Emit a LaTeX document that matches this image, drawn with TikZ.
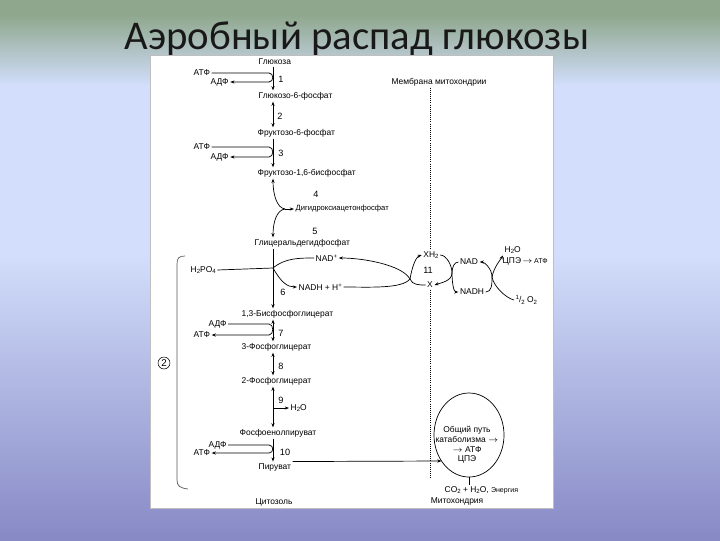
\documentclass[tikz,border=0pt]{standalone}
\usepackage{fontspec}
\setmainfont{Liberation Sans}
\newfontfamily\titlefont{Carlito}
\usetikzlibrary{arrows.meta,positioning,calc,shapes.geometric}

\definecolor{bgtop}{HTML}{8FA78D}
\definecolor{bgmid}{HTML}{D2DEFB}
\definecolor{bgbot}{HTML}{8789C5}

\newcommand{\lsub}[1]{\raisebox{-0.35ex}{\fontsize{4.3}{5}\selectfont #1}}
\newcommand{\lsup}[1]{\raisebox{0.7ex}{\fontsize{4.3}{5}\selectfont #1}}

\tikzset{
  lbl/.style={font=\fontsize{6}{7.2}\selectfont, inner sep=1pt},
  cpd/.style={lbl, anchor=west},
  num/.style={font=\fontsize{6.5}{7}\selectfont, inner sep=0pt},
  arr/.style={-{Stealth[length=3pt,width=2.2pt]}, line width=0.5pt},
  rarr/.style={{Stealth[length=3pt,width=2.2pt]}-{Stealth[length=3pt,width=2.2pt]}, line width=0.5pt},
  plain/.style={line width=0.5pt},
  memb/.style={densely dotted, line width=0.5pt},
}

\begin{document}
\begin{tikzpicture}[x=0.025cm,y=-0.025cm]
    % slide background
    \useasboundingbox (0,0) rectangle (720,540);
    \fill[bgtop] (0,0) rectangle (720,15);
    \shade[top color=bgtop, bottom color=bgmid] (0,15) rectangle (720,85);
    \fill[bgmid] (0,85) rectangle (720,255);
    \shade[top color=bgmid, bottom color=bgbot] (0,255) rectangle (720,540);

    \node[font=\titlefont\fontsize{29}{33}\selectfont, anchor=base, text=black!90] (title) at (357,49) {Аэробный распад глюкозы};

    \draw[gray!50, fill=white] (150,55) rectangle (553,508);

    \coordinate (ax) at (273,0);
    \coordinate (lp) at (269,0);

    % compounds
    \node[cpd] (glc)  at (257,62)  {Глюкоза};
    \node[cpd] (g6p)  at (257,96)  {Глюкозо-6-фосфат};
    \node[cpd] (f6p)  at (256,133) {Фруктозо-6-фосфат};
    \node[cpd] (fbp)  at (256,173) {Фруктозо-1,6-бисфосфат};
    \node[cpd, font=\fontsize{5.4}{6.5}\selectfont] (dhap) at (294,209) {Дигидроксиацетонфосфат};
    \node[cpd] (gap)  at (253,243) {Глицеральдегидфосфат};
    \node[cpd] (bpg)  at (240,314) {1,3-Бисфосфоглицерат};
    \node[cpd] (pg3)  at (240,347) {3-Фосфоглицерат};
    \node[cpd] (pg2)  at (240,381) {2-Фосфоглицерат};
    \node[cpd] (pep)  at (238,433) {Фосфоенолпируват};
    \node[cpd] (pyr)  at (257,467) {Пируват};

    % cofactors
    \node[cpd] (atp1)  at (192,73)  {АТФ};
    \node[cpd] (adp1)  at (209,82)  {АДФ};
    \node[cpd] (atp3)  at (192,147) {АТФ};
    \node[cpd] (adp3)  at (209,157) {АДФ};
    \node[cpd] (pi6)   at (189,270) {H\lsub{2}PO\lsub{4}};
    \node[cpd] (adp7)  at (207,324) {АДФ};
    \node[cpd] (atp7)  at (192,335) {АТФ};
    \node[cpd] (h2o9)  at (289,408) {H\lsub{2}O};
    \node[cpd] (adp10) at (207,445) {АДФ};
    \node[cpd] (atp10) at (192,453) {АТФ};

    % step numbers
    \node[num] (n1)  at (281,79)  {1};
    \node[num] (n2)  at (280,116) {2};
    \node[num] (n3)  at (281,153) {3};
    \node[num] (n4)  at (316,194) {4};
    \node[num] (n5)  at (315,231) {5};
    \node[num] (n6)  at (283,292) {6};
    \node[num] (n7)  at (281,333) {7};
    \node[num] (n8)  at (281,366) {8};
    \node[num] (n9)  at (281,400) {9};
    \node[num] (n10) at (285,452) {10};

    % main chain
    \draw[arr]  (glc.south -| ax) -- (g6p.north -| ax);
    \draw[rarr] (g6p.south -| ax) -- (f6p.north -| ax);
    \draw[arr]  (f6p.south -| ax) -- (fbp.north -| ax);
    \coordinate (j45) at (285,209);
    \draw[arr] (j45) .. controls +(-8,-1) and +(0,16) .. (fbp.south -| ax);
    \draw[arr] (j45) .. controls +(-8,1) and +(0,-16) .. (gap.north -| ax);
    \draw[arr] (j45) -- (dhap.west);
    \draw[arr]  (gap.south -| ax) -- (bpg.north -| ax);
    \draw[rarr] (bpg.south -| ax) -- (pg3.north -| ax);
    \draw[rarr] (pg3.south -| ax) -- (pg2.north -| ax);
    \draw[rarr] (pg2.south -| ax) -- (pep.north -| ax);
    \draw[arr]  (pep.south -| ax) -- (pyr.north -| ax);

    % ATP / ADP loops
    \draw[arr] (atp1.east) -- (atp1.east -| lp) .. controls +(5,0) and +(5,0) .. (adp1.east -| lp) -- (adp1.east);
    \draw[arr] (atp3.east) -- (atp3.east -| lp) .. controls +(5,0) and +(5,0) .. (adp3.east -| lp) -- (adp3.east);
    \draw[arr] (adp7.east) -- (adp7.east -| lp) .. controls +(5,0) and +(5,0) .. (atp7.east -| lp) -- (atp7.east);
    \draw[arr] (adp10.east) -- (adp10.east -| lp) .. controls +(5,0) and +(5,0) .. (atp10.east -| lp) -- (atp10.east);
    \draw[arr] (ax |- h2o9) -- (h2o9.west);

    % step 6 and shuttle
    \coordinate (p6) at (273,268);
    \coordinate (c1) at (410,279);
    \coordinate (c2) at (452,273);
    \coordinate (c3) at (492,277);
    \node[cpd] (nadc)  at (314,258) {NAD\lsup{+}};
    \node[cpd] (nadhc) at (297,287) {NADH + H\lsup{+}};
    \node[lbl] (xh2)   at (431,255) {XH\lsub{2}};
    \node[num] (n11)   at (428,270) {11};
    \node[lbl] (xx)    at (430,285) {X};
    \node[lbl] (nadm)  at (469,262) {NAD};
    \node[lbl] (nadhm) at (472,292) {NADH};
    \node[cpd] (h2o)   at (503,250) {H\lsub{2}O};
    \node[cpd] (cpe)   at (501,261) {ЦПЭ\,$\to$\,{\fontsize{5}{6}\selectfont АТФ}};
    \node[cpd] (o2)    at (514,300) {\lsup{1}/\lsub{2} O\lsub{2}};

    \draw[plain] (pi6.east) -- (p6);
    \draw[plain] (p6) .. controls +(12,-10) and +(-15,0) .. (nadc.west);
    \draw[arr] (c1) .. controls +(-8,-14) and +(25,0) .. (nadc.east);
    \draw[arr] (p6) .. controls +(8,14) and +(-10,0) .. (nadhc.west);
    \draw[plain] (nadhc.east) .. controls +(25,0) and +(-8,10) .. (c1);
    \draw[arr] (c1) .. controls +(2,-12) and +(-6,2) .. (xh2.west);
    \draw[plain] (c1) .. controls +(2,6) and +(-6,0) .. (xx.west);
    \draw[plain] (xh2.east) .. controls +(6,0) and +(0,-8) .. (c2);
    \draw[plain] (nadm.west) .. controls +(-4,0) and +(0,-6) .. (c2);
    \draw[arr] (c2) .. controls +(0,8) and +(6,-2) .. (xx.east);
    \draw[arr] (c2) .. controls +(0,8) and +(-5,0) .. (nadhm.west);
    \draw[arr] (c3) .. controls +(0,-8) and +(5,0) .. (nadm.east);
    \draw[plain] (nadhm.east) .. controls +(6,0) and +(0,8) .. (c3);
    \draw[arr] (c3) .. controls +(2,-10) and +(-3,5) .. (h2o.south west);
    \draw[plain] (c3) .. controls +(2,10) and +(-8,-2) .. (o2.west);

    % mitochondrion side
    \node[lbl] (mem) at (439,82) {Мембрана митохондрии};
    \coordinate (membot) at (430,479);
    \draw[memb] (mem.south -| xx) -- (xh2.north -| xx);
    \draw[memb] (xx.south) -- (membot);

    \node[draw, ellipse, plain, minimum width=1.75cm, minimum height=2.1cm, inner sep=0pt] (cat) at (469,435) {};
    \node[lbl, align=center, font=\fontsize{6}{6.8}\selectfont] (cattxt) at (467,445) {Общий путь\\катаболизма $\to$\\$\to$ АТФ\\ЦПЭ};
    \draw[arr] (pyr.north east) -- ($(cat.center)+(-27.5,26)$);
    \node[cpd] (prod) at (443,490) {CO\lsub{2} + H\lsub{2}O, {\fontsize{5}{6}\selectfont Энергия}};
    \draw[plain] (cat.south) -- (cat.south |- prod.north);
    \node[lbl] (mito) at (457,501) {Митохондрия};
    \node[lbl] (cyto) at (274,502) {Цитозоль};

    % bracket with circled 2
    \draw[plain, gray!70!black] (185,256) .. controls (179,256) and (177,258) .. (177,264) -- (177,480) .. controls (177,486) and (180,488) .. (188,489);
    \node[draw, circle, inner sep=0.8pt, font=\fontsize{7}{8}\selectfont] (ph2) at (164,363) {2};
\end{tikzpicture}
\end{document}
